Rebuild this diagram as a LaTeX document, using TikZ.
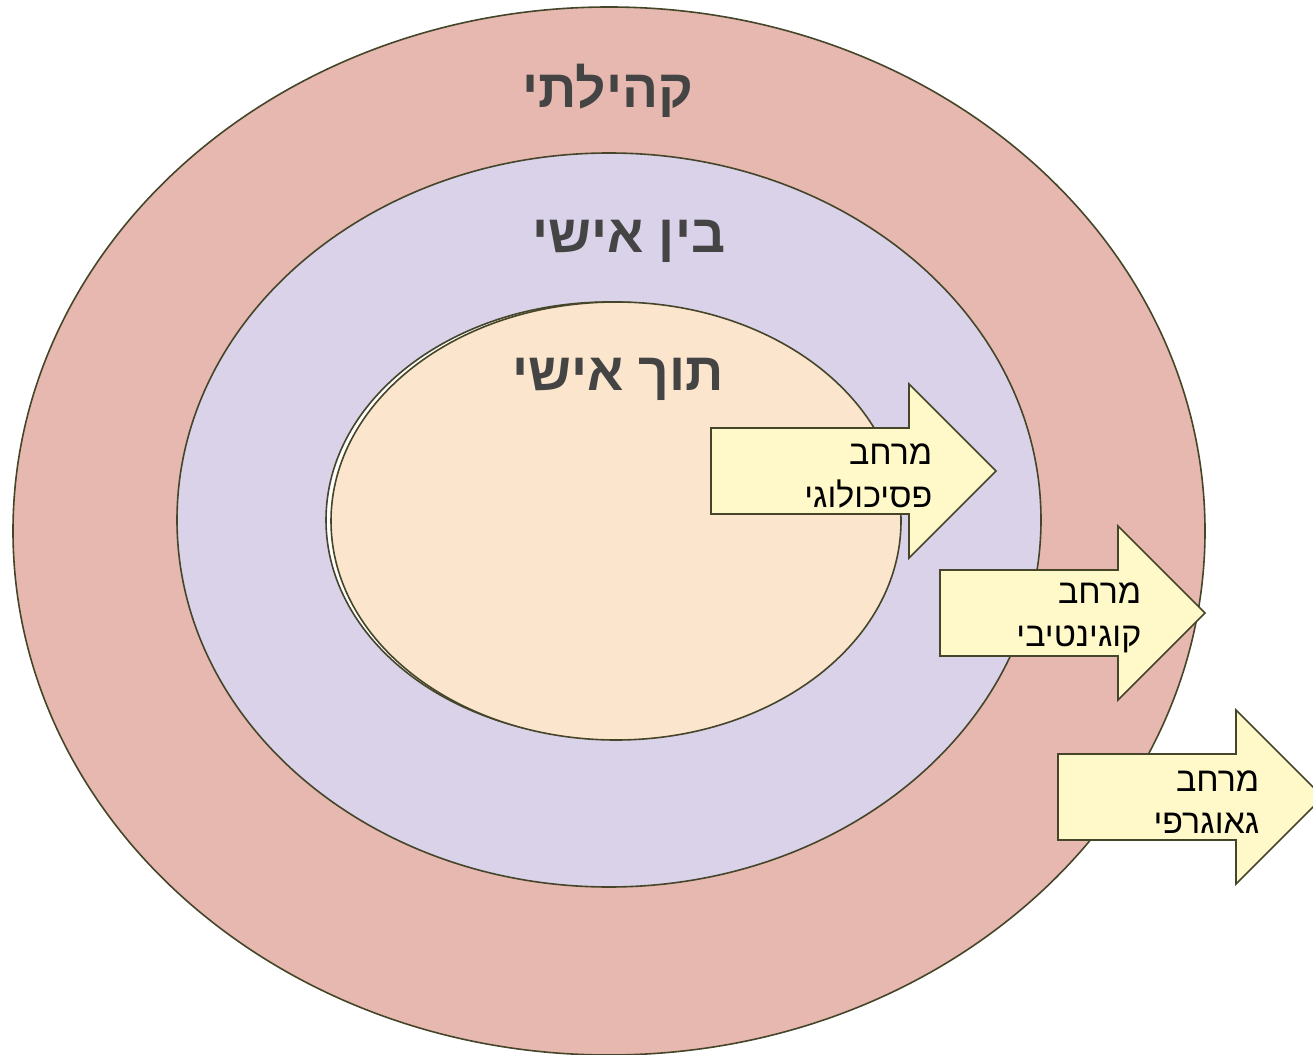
\documentclass[tikz,border=0pt]{standalone}
\usepackage{fontspec}
\newfontfamily\hebfont[Script=Hebrew]{Liberation Sans}
\TeXXeTstate=1
\definecolor{ringout}{HTML}{E6B8AF}
\definecolor{ringmid}{HTML}{D9D2E9}
\definecolor{ringin}{HTML}{FCE5CD}
\definecolor{arrowfill}{HTML}{FFF8C8}
\definecolor{edge}{HTML}{45452A}
\definecolor{titlegray}{HTML}{444444}
\tikzset{
  ring/.style={draw=edge, line width=1.2pt},
  title/.style={font=\hebfont\bfseries\fontsize{40}{48}\selectfont, text=titlegray},
  arrowbox/.style={draw=edge, fill=arrowfill, line width=1.2pt, line join=miter},
  arrowtext/.style={anchor=east, align=right, font=\hebfont\fontsize{25.5}{32}\selectfont}
}
% #1 start corner, #2 body length, #3 text anchor name
\newcommand{\maparrow}[3]{%
  \draw[arrowbox] (#1) -- ++(#2,0) -- ++(0,-44) -- ++(87,87) -- ++(-87,87)
    -- ++(0,-44) -- ++(-#2,0) -- cycle;
  \coordinate (#3) at ($(#1)+(#2,48)+(28,0)$);
}
\usetikzlibrary{calc}
\begin{document}
\begin{tikzpicture}[x=0.75pt,y=-0.75pt]
  \useasboundingbox (0,0) rectangle (1313,1055);
  % rings
  \draw[ring, fill=ringout] (609,531) ellipse [x radius=596, y radius=524];
  \draw[ring, fill=ringmid] (609,520) ellipse [x radius=432, y radius=367];
  \draw[ring, fill=white] (609,520) ellipse [x radius=283, y radius=218];
  \draw[ring, fill=ringin] (616,521) ellipse [x radius=285, y radius=219];
  % ring titles
  \node[title] (community) at (608,91) {\beginR קהילתי\endR};
  \node[title] (inter) at (629,241) {\beginR בין אישי\endR};
  \node[title] (intra) at (618,379) {\beginR תוך אישי\endR};
  % arrows
  \coordinate (psyA) at (711,428);
  \coordinate (cogA) at (940,570);
  \coordinate (geoA) at (1058,754);
  \maparrow{psyA}{198}{psyT}
  \maparrow{cogA}{178}{cogT}
  \maparrow{geoA}{178}{geoT}
  \node[arrowtext] (psy) at (psyT) {\beginR מרחב\endR\\\beginR פסיכולוגי\endR};
  \node[arrowtext] (cog) at (cogT) {\beginR מרחב\endR\\\beginR קוגינטיבי\endR};
  \node[arrowtext] (geo) at (geoT) {\beginR מרחב\endR\\\beginR גאוגרפי\endR};
\end{tikzpicture}
\end{document}
